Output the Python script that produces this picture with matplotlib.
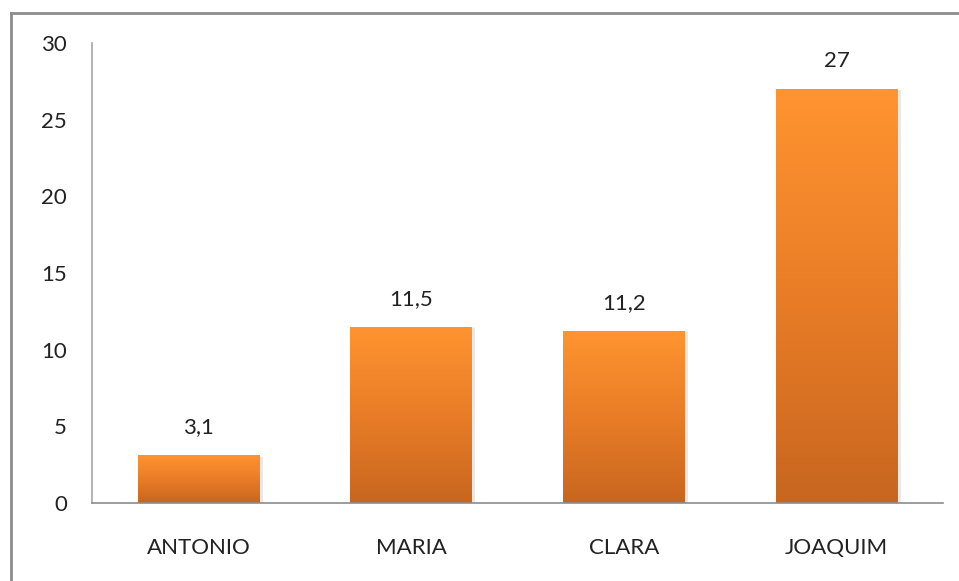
import numpy as np
import matplotlib.pyplot as plt
from matplotlib.colors import LinearSegmentedColormap
from matplotlib.lines import Line2D

names = ["ANTONIO", "MARIA", "CLARA", "JOAQUIM"]
values = [3.1, 11.5, 11.2, 27]
value_labels = ["3,1", "11,5", "11,2", "27"]
yticks = [0, 5, 10, 15, 20, 25, 30]

plt.rcParams['font.family'] = ['Lato', 'DejaVu Sans']

W, H = 959, 581
fig = plt.figure(figsize=(W / 100, H / 100), dpi=100)
ax = fig.add_axes([92 / W, 78 / H, (943 - 92) / W, (538 - 78) / H])

# orange gradient, dark at the bottom, light at the top
grad = LinearSegmentedColormap.from_list("org", ["#c8661f", "#e97d27", "#ff9430"])
x = np.arange(len(names))
bars = ax.bar(x, values, width=0.57, color="none", edgecolor="none", zorder=2)
for b in bars:
    x0, y0 = b.get_x(), b.get_y()
    w, h = b.get_width(), b.get_height()
    # soft shadow
    ax.bar(x0 + w / 2 + 0.012, h, width=w + 0.01, bottom=y0 - 0.08,
           color="#d9d9d9", alpha=0.6, zorder=1)
    img = ax.imshow(np.linspace(0, 1, 256).reshape(-1, 1), cmap=grad,
                    origin="lower", aspect="auto",
                    extent=(x0, x0 + w, y0, y0 + h), zorder=2)
    img.set_clip_path(b)

for xi, v, lab in zip(x, values, value_labels):
    ax.annotate(lab, (xi, v), xytext=(0, 13), textcoords="offset points",
                ha="center", va="bottom", fontsize=16, color="#222222")

ax.set_xlim(-0.5, len(names) - 0.5)
ax.set_ylim(0, 30)
ax.set_yticks(yticks)
ax.set_xticks(x)
ax.set_xticklabels(names)
ax.tick_params(axis="y", length=0, pad=18, labelsize=16, labelcolor="#222222")
ax.tick_params(axis="x", length=0, pad=25, labelsize=16, labelcolor="#222222")

for s in ["top", "right"]:
    ax.spines[s].set_visible(False)
ax.spines["left"].set_color("#a6a6a6")
ax.spines["bottom"].set_color("#8c8c8c")
ax.spines["left"].set_linewidth(1.2)
ax.spines["bottom"].set_linewidth(1.2)

# outer chart border (left and top edges visible)
fig.add_artist(Line2D([11 / W, 11 / W], [0, 1 - 13 / H], transform=fig.transFigure,
                      color="#8c8c8c", linewidth=2))
fig.add_artist(Line2D([11 / W, 1], [1 - 13 / H, 1 - 13 / H], transform=fig.transFigure,
                      color="#8c8c8c", linewidth=2))

fig.savefig("out.png", dpi=100)
